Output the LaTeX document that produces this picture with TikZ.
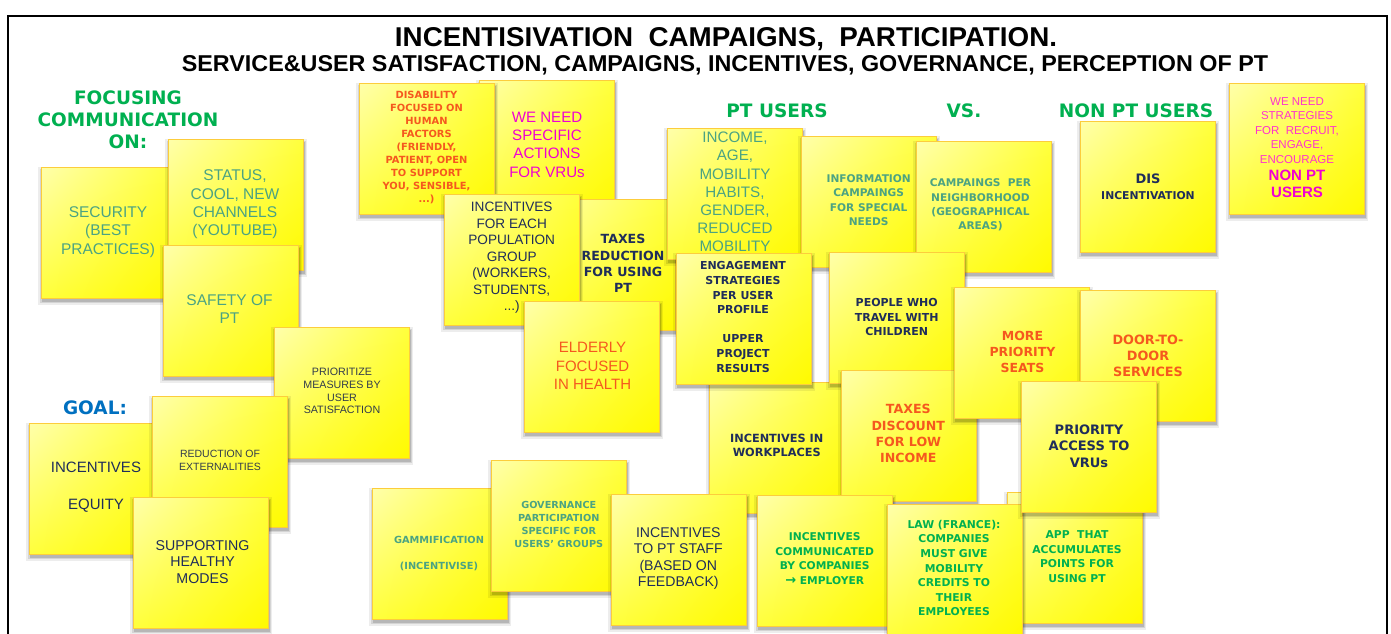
\documentclass[tikz,border=0pt]{standalone}
\usepackage{fontspec}
\setmainfont{Liberation Sans}
\newfontfamily\dvs{DejaVu Sans}
\usetikzlibrary{shadows,shadings}
\definecolor{cteal}{RGB}{75,163,130}
\definecolor{cnavy}{RGB}{31,45,90}
\definecolor{cgray}{RGB}{50,60,75}
\definecolor{corange}{RGB}{245,88,30}
\definecolor{cmag}{RGB}{240,0,210}
\definecolor{cpink}{RGB}{255,50,205}
\definecolor{cgreen}{RGB}{0,176,80}
\definecolor{cblue}{RGB}{0,112,192}
\definecolor{noteUL}{RGB}{255,255,170}
\definecolor{noteM}{RGB}{255,255,60}
\definecolor{noteLR}{RGB}{255,250,0}
\definecolor{noteedge}{RGB}{252,205,60}
\tikzset{
  note/.style={minimum width=135pt, minimum height=131pt, inner sep=0pt,
    draw=noteedge, line width=0.8pt, shade,
    upper left=noteUL, upper right=noteM, lower left=noteM, lower right=noteLR,
    drop shadow={shadow xshift=0pt, shadow yshift=-3pt, shadow scale=1.05, opacity=0.07, fill=black},
    drop shadow={shadow xshift=0.5pt, shadow yshift=-3pt, shadow scale=1.03, opacity=0.10, fill=black},
    drop shadow={shadow xshift=1pt, shadow yshift=-3pt, shadow scale=1.01, opacity=0.14, fill=black}},
  txt/.style={align=center, inner sep=0pt},
  arl/.style 2 args={font=\fontsize{#1}{#2}\selectfont},
  vbd/.style 2 args={font=\dvs\bfseries\fontsize{#1}{#2}\selectfont},
  lbl/.style={align=center, inner sep=0pt, font=\dvs\bfseries\fontsize{18.5}{22}\selectfont},
}
\newcommand\sticky[7]{%
  \node[note, anchor=north west] (#1) at (#2,#3) {};
  \node[txt, #6] (#1-t) at (#4,#5) {#7};
}
\begin{document}
\begin{tikzpicture}[x=1pt, y=-1pt]
\useasboundingbox (0,0) rectangle (1391,633);
\fill[white] (0,0) rectangle (1391,633);
% frame
\draw[line width=2pt] (8,645) -- (8,16) -- (1387,16) -- (1387,645);
% titles
\node[anchor=base, inner sep=0pt] (title) at (726,46.5)
  {\resizebox{662pt}{19pt}{\bfseries INCENTISIVATION\ \ CAMPAIGNS,\ \ PARTICIPATION.}};
\node[anchor=base, inner sep=0pt] (subtitle) at (725,71)
  {\resizebox{1086pt}{16pt}{\bfseries SERVICE\&USER SATISFACTION, CAMPAIGNS, INCENTIVES, GOVERNANCE, PERCEPTION OF PT}};
% labels
\node[lbl, text=cgreen] (focus) at (128,120) {FOCUSING\\COMMUNICATION\\ON:};
\node[lbl, text=cgreen, anchor=base] (ptusers) at (777,117) {PT USERS};
\node[lbl, text=cgreen, anchor=base] (vs) at (964,117) {VS.};
\node[lbl, text=cgreen, anchor=base] (nonpt) at (1136,117) {NON PT USERS};
\node[lbl, text=cblue, anchor=base] (goal) at (95,414) {GOAL:};
% left group
\sticky{sec}{41}{167}{108}{232}{arl={15.5}{18.3}, text=cteal}{SECURITY\\(BEST\\PRACTICES)}
\sticky{status}{168}{139}{235}{204.5}{arl={15.5}{18.3}, text=cteal}{STATUS,\\COOL, NEW\\CHANNELS\\(YOUTUBE)}
\sticky{safety}{163}{245}{229.5}{309}{arl={15.5}{18.3}, text=cteal}{SAFETY OF\\PT}
\sticky{prio}{274}{327}{342}{391}{arl={10.7}{12.7}, text=cgray}{PRIORITIZE\\MEASURES BY\\USER\\SATISFACTION}
\sticky{inceq}{29}{423}{96}{487.5}{arl={15}{18.5}, text=cnavy}{INCENTIVES\\[18.5pt]EQUITY}
\sticky{redu}{152}{396}{220}{460.5}{arl={10.5}{13}, text=cgray}{REDUCTION OF\\EXTERNALITIES}
\sticky{supp}{133}{497}{202.5}{562}{arl={14.2}{16.3}, text=cnavy}{SUPPORTING\\HEALTHY\\MODES}
% middle group
\sticky{weneed}{479}{80}{547}{144.6}{arl={15.1}{18.3}, text=cmag}{WE NEED\\SPECIFIC\\ACTIONS\\FOR VRUs}
\sticky{disab}{359}{83}{426.5}{147.5}{vbd={9.9}{12.9}, text=corange}{DISABILITY\\FOCUSED ON\\HUMAN\\FACTORS\\(FRIENDLY,\\PATIENT, OPEN\\TO SUPPORT\\YOU, SENSIBLE,\\...)}
\sticky{taxred}{540}{199}{623}{263.7}{vbd={12.6}{16.3}, text=cnavy}{TAXES\\REDUCTION\\FOR USING\\PT}
\sticky{inceach}{444}{194}{511.7}{258}{arl={13.6}{16.5}, text=cnavy}{INCENTIVES\\FOR EACH\\POPULATION\\GROUP\\(WORKERS,\\STUDENTS,\\...)}
\sticky{elderly}{524}{301}{592.5}{366}{arl={15}{18.2}, text=corange}{ELDERLY\\FOCUSED\\IN HEALTH}
% PT users group
\sticky{income}{667}{128}{735}{192}{arl={15.2}{18.2}, text=cteal}{INCOME,\\AGE,\\MOBILITY\\HABITS,\\GENDER,\\REDUCED\\MOBILITY}
\sticky{info}{801}{136}{868.7}{200}{vbd={10.6}{14.4}, text=cteal}{INFORMATION\\CAMPAINGS\\FOR SPECIAL\\NEEDS}
\sticky{neigh}{916}{141}{980.5}{205}{vbd={10.6}{14.4}, text=cteal}{CAMPAINGS\ \ PER\\NEIGHBORHOOD\\(GEOGRAPHICAL\\AREAS)}
\sticky{workpl}{709}{382}{776.7}{445.5}{vbd={11.3}{13.7}, text=cnavy}{INCENTIVES IN\\WORKPLACES}
\sticky{engage}{676}{253}{743}{317}{vbd={11}{14.6}, text=cnavy}{ENGAGEMENT\\STRATEGIES\\PER USER\\PROFILE\\[14.7pt]UPPER\\PROJECT\\RESULTS}
\sticky{people}{829}{252}{896.7}{317}{vbd={11}{14.7}, text=cnavy}{PEOPLE WHO\\TRAVEL WITH\\CHILDREN}
\sticky{taxdisc}{841}{370}{908.3}{433.8}{vbd={12.6}{16.3}, text=corange}{TAXES\\DISCOUNT\\FOR LOW\\INCOME}
\sticky{more}{954}{287}{1022.5}{352}{vbd={12.5}{16}, text=corange}{MORE\\PRIORITY\\SEATS}
\sticky{door}{1080}{290}{1148}{356}{vbd={12.8}{16.2}, text=corange}{DOOR-TO-\\DOOR\\SERVICES}
\sticky{dis}{1080}{121}{1148}{186.6}{vbd={10.8}{16.2}, text=cnavy}{{\fontsize{13}{16}\selectfont DIS}\\INCENTIVATION}
\sticky{strat}{1229}{83}{1297}{147.5}{arl={11.5}{14.6}, text=cpink}{WE NEED\\STRATEGIES\\FOR\ \ RECRUIT,\\ENGAGE,\\ENCOURAGE\\[2pt]{\bfseries\fontsize{15}{17.8}\selectfont\color{cmag}NON PT}\\[3pt]{\bfseries\fontsize{15}{17.8}\selectfont\color{cmag}USERS}}
% bottom group
\sticky{gamm}{372}{488}{439}{553}{vbd={9.8}{13}, text=cteal}{GAMMIFICATION\\[13pt](INCENTIVISE)}
\sticky{gov}{491}{460}{558.8}{524.5}{vbd={9.7}{13}, text=cteal}{GOVERNANCE\\PARTICIPATION\\SPECIFIC FOR\\USERS’ GROUPS}
\sticky{staff}{611}{494}{678.3}{558.7}{arl={14.1}{16.4}, text=cnavy}{INCENTIVES\\TO PT STAFF\\(BASED ON\\FEEDBACK)}
\sticky{commu}{757}{495}{824.7}{558.5}{vbd={10.7}{14.5}, text=cgreen}{INCENTIVES\\COMMUNICATED\\BY COMPANIES\\{\fontsize{13}{14.5}\selectfont →} EMPLOYER}
\sticky{app}{1007}{492}{1077}{556.5}{vbd={10.8}{14.5}, text=cgreen}{APP\ \ THAT\\ACCUMULATES\\POINTS FOR\\USING PT}
\sticky{law}{887}{504}{954}{568}{vbd={10.8}{14.6}, text=cgreen}{LAW (FRANCE):\\COMPANIES\\MUST GIVE\\MOBILITY\\CREDITS TO\\THEIR\\EMPLOYEES}
\sticky{access}{1021}{381}{1089}{446}{vbd={13}{16.5}, text=cnavy}{PRIORITY\\ACCESS TO\\VRUs}
\end{tikzpicture}
\end{document}
